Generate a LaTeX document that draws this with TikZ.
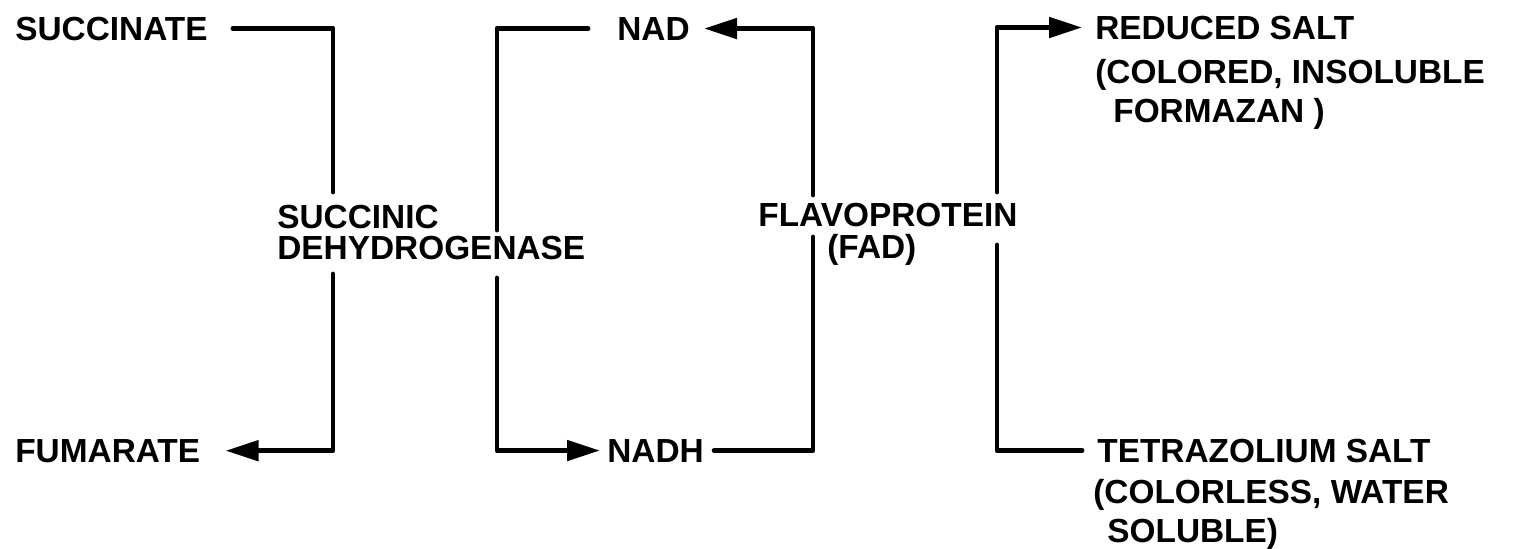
\documentclass[tikz,border=0pt]{standalone}
\usepackage{fontspec}
\setmainfont{Liberation Sans}
\usetikzlibrary{arrows.meta,positioning}

\newcommand{\labelfont}{\fontsize{19}{22.3}\selectfont\bfseries}

\tikzset{
  lbl/.style={inner sep=0pt, font=\labelfont, anchor=base west},
  note/.style={inner sep=0pt, font=\labelfont, anchor=north west, align=left},
  wire/.style={line width=2.8pt, line cap=round, line join=round},
  flow/.style={wire, -{Triangle[length=0.66cm,width=0.4cm]}}
}

\begin{document}
\begin{tikzpicture}[x=0.02cm,y=-0.02cm]
\useasboundingbox (0,0) rectangle (1540,548);

% substances
\node[lbl] (succ) at (15,40) {SUCCINATE};
\node[lbl] (fum) at (15,462) {FUMARATE};
\node[lbl] (nad) at (617,40) {NAD};
\node[lbl] (nadh) at (607,462) {NADH};
\node[lbl] (red) at (1095,39) {REDUCED SALT};
\node[note] (redn) at (1095,59) {(COLORED, INSOLUBLE\\\hspace*{0.36cm}FORMAZAN )};
\node[lbl] (tetra) at (1097,462) {TETRAZOLIUM SALT};
\node[note] (tetran) at (1093,479) {(COLORLESS, WATER\\\hspace*{0.28cm}SOLUBLE)};

% enzymes
\node[note, font=\fontsize{19}{17.6}\selectfont\bfseries] (sdh) at (277,205) {SUCCINIC\\DEHYDROGENASE};
\node[note, font=\fontsize{19}{18.2}\selectfont\bfseries] (flavo) at (758,203) {FLAVOPROTEIN\\\hspace*{1.38cm}(FAD)};

% gaps in the uprights
\coordinate (k1u) at (333,192);
\coordinate (k1l) at (333,274);
\coordinate (k2u) at (497,230);
\coordinate (k2l) at (497,278);
\coordinate (k3u) at (813,195);
\coordinate (k3l) at (813,237);
\coordinate (k4u) at (997,192);
\coordinate (k4l) at (997,245);

\draw[wire, shorten <=0.5cm] (succ.east) -- (succ.east -| k1u) -- (k1u);
\draw[flow, shorten >=0.5cm] (k1l) -- (fum.east -| k1l) -- (fum.east);
\draw[wire, shorten <=0.58cm] (nad.west) -- (nad.west -| k2u) -- (k2u);
\draw[flow, shorten >=0.14cm] (k2l) -- (nadh.west -| k2l) -- (nadh.west);
\draw[wire, shorten <=0.2cm] (nadh.east) -- (nadh.east -| k3l) -- (k3l);
\draw[flow, shorten >=0.28cm] (k3u) -- (nad.east -| k3u) -- (nad.east);
\draw[flow, shorten >=0.26cm] (k4u) -- (red.west -| k4u) -- (red.west);
\draw[wire, shorten >=0.3cm] (k4l) -- (tetra.west -| k4l) -- (tetra.west);
\end{tikzpicture}
\end{document}
